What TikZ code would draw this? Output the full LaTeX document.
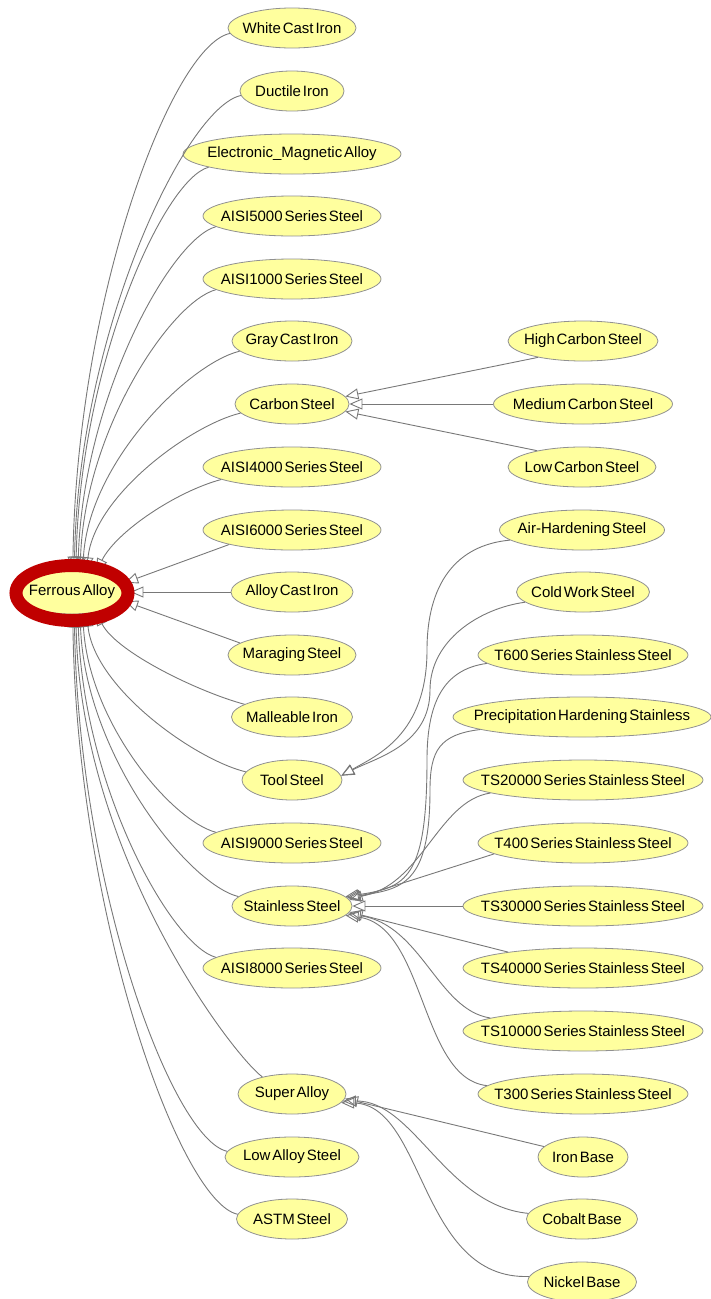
\documentclass[tikz,border=0pt]{standalone}
\usepackage{fontspec}
\setmainfont{Liberation Sans}[WordSpace=0.45]
\usetikzlibrary{shapes.geometric,arrows.meta}
\definecolor{nodefill}{RGB}{255,255,158}
\definecolor{nodeline}{RGB}{145,145,145}
\definecolor{linkgray}{RGB}{120,120,120}
\definecolor{ringred}{RGB}{192,0,0}
% label text that does not widen the ellipse; widths are set per class
\newcommand\lbl[1]{\makebox[0pt]{#1}}

\begin{document}
\begin{tikzpicture}[x=1pt,y=-1pt,
  cls/.style={ellipse, draw=nodeline, line width=0.8pt, fill=nodefill,
    minimum height=40pt, minimum width=#1pt, inner sep=0pt,
    font=\fontsize{15}{18}\selectfont},
  isa/.style={draw=linkgray, line width=0.9pt,
    -{Triangle[open,length=13pt,width=11pt]}},
]
\useasboundingbox (0,0) rectangle (710,1299);

% root class
\node[cls=116, minimum height=44pt] (fa) at (72,592) {\lbl{Ferrous Alloy}};

% direct subclasses
\node[cls=128] (wci)  at (292,28)   {\lbl{White Cast Iron}};
\node[cls=104] (duc)  at (292,91)   {\lbl{Ductile Iron}};
\node[cls=218] (ema)  at (292,154)  {\lbl{Electronic\_Magnetic Alloy}};
\node[cls=178] (a5)   at (292,216)  {\lbl{AISI5000 Series Steel}};
\node[cls=178] (a1)   at (292,279)  {\lbl{AISI1000 Series Steel}};
\node[cls=120] (gci)  at (292,341)  {\lbl{Gray Cast Iron}};
\node[cls=114] (cs)   at (292,404)  {\lbl{Carbon Steel}};
\node[cls=178] (a4)   at (292,467)  {\lbl{AISI4000 Series Steel}};
\node[cls=178] (a6)   at (292,530)  {\lbl{AISI6000 Series Steel}};
\node[cls=122] (aci)  at (292,592)  {\lbl{Alloy Cast Iron}};
\node[cls=128] (mar)  at (292,655)  {\lbl{Maraging Steel}};
\node[cls=121] (mal)  at (292,717)  {\lbl{Malleable Iron}};
\node[cls=100] (tool) at (292,780)  {\lbl{Tool Steel}};
\node[cls=178] (a9)   at (292,843)  {\lbl{AISI9000 Series Steel}};
\node[cls=120] (ss)   at (292,906)  {\lbl{Stainless Steel}};
\node[cls=178] (a8)   at (292,968)  {\lbl{AISI8000 Series Steel}};
\node[cls=108] (sa)   at (292,1094) {\lbl{Super Alloy}};
\node[cls=134] (la)   at (292,1157) {\lbl{Low Alloy Steel}};
\node[cls=111] (astm) at (292,1219) {\lbl{ASTM Steel}};

% second level
\node[cls=150] (hcs) at (583,341)  {\lbl{High Carbon Steel}};
\node[cls=179] (mcs) at (583,404)  {\lbl{Medium Carbon Steel}};
\node[cls=148] (lcs) at (582,467)  {\lbl{Low Carbon Steel}};
\node[cls=165] (ahs) at (582,530)  {\lbl{Air-Hardening Steel}};
\node[cls=133] (cws) at (583,592)  {\lbl{Cold Work Steel}};
\node[cls=210] (t6)  at (583,655)  {\lbl{T600 Series Stainless Steel}};
\node[cls=258] (phs) at (582,717)  {\lbl{Precipitation Hardening Stainless}};
\node[cls=240] (ts2) at (583,780)  {\lbl{TS20000 Series Stainless Steel}};
\node[cls=210] (t4)  at (583,843)  {\lbl{T400 Series Stainless Steel}};
\node[cls=240] (ts3) at (583,906)  {\lbl{TS30000 Series Stainless Steel}};
\node[cls=240] (ts4) at (583,968)  {\lbl{TS40000 Series Stainless Steel}};
\node[cls=240] (ts1) at (583,1031) {\lbl{TS10000 Series Stainless Steel}};
\node[cls=210] (t3)  at (583,1094) {\lbl{T300 Series Stainless Steel}};
\node[cls=90]  (ib)  at (583,1157) {\lbl{Iron Base}};
\node[cls=111] (cb)  at (582,1219) {\lbl{Cobalt Base}};
\node[cls=109] (nb)  at (582,1282) {\lbl{Nickel Base}};

% routing points where bundled edges run vertically
\coordinate (tj1) at (427,650);
\coordinate (tj2) at (430,690);
\coordinate (sj1) at (427,760);
\coordinate (sj2) at (430,790);

% subclass links into the root, upper half
\draw[isa] (wci.185) .. controls +(-58,12) and +(4,-272) .. (fa.88);
\draw[isa] (duc.185) .. controls +(-55,12) and +(4,-238) .. (fa.84);
\draw[isa] (ema.189) .. controls +(-45,12) and +(4,-205) .. (fa.80);
\draw[isa] (a5.188)  .. controls +(-45,12) and +(5,-172) .. (fa.75);
\draw[isa] (a1.188)  .. controls +(-45,12) and +(5,-140) .. (fa.70);
\draw[isa] (gci.191) .. controls +(-50,12) and +(6,-108) .. (fa.64);
\draw[isa] (cs.190)  .. controls +(-50,12) and +(8,-75)  .. (fa.56);
\draw[isa] (a4.190)  .. controls +(-45,12) and +(20,-40) .. (fa.40);
\draw[isa] (a6.193) -- (fa.10);
\draw[isa] (aci.west) -- (fa.east);
\draw[isa] (mar.167) -- (fa.-10);

% subclass links into the root, lower half
\draw[isa] (mal.165)  .. controls +(-45,-12) and +(20,40)  .. (fa.-40);
\draw[isa] (tool.170) .. controls +(-50,-12) and +(8,75)   .. (fa.-56);
\draw[isa] (a9.172)   .. controls +(-45,-12) and +(6,108)  .. (fa.-64);
\draw[isa] (ss.170)   .. controls +(-50,-12) and +(5,140)  .. (fa.-70);
\draw[isa] (a8.172)   .. controls +(-45,-12) and +(5,172)  .. (fa.-75);
\draw[isa] (sa.150)   .. controls +(-30,-22) and +(4,240)  .. (fa.-80);
\draw[isa] (la.175)   .. controls +(-55,-12) and +(4,272)  .. (fa.-84);
\draw[isa] (astm.175) .. controls +(-58,-12) and +(4,300)  .. (fa.-88);

% carbon steel
\draw[isa] (hcs.200) -- (cs.8);
\draw[isa] (mcs.west) -- (cs.east);
\draw[isa] (lcs.160) -- (cs.-8);

% tool steel
\draw[isa] (ahs.188) .. controls +(-55,5) and +(0,-65) .. (tj1)
  .. controls +(0,85) and +(35,-20) .. (tool.5);
\draw[isa] (cws.190) .. controls +(-45,6) and +(0,-50) .. (tj2)
  .. controls +(0,55) and +(35,-18) .. (tool.5);

% stainless steel
\draw[isa] (t6.185) .. controls +(-45,6) and +(0,-55) .. (sj1)
  .. controls +(0,120) and +(60,-9) .. (ss.10);
\draw[isa] (phs.187) .. controls +(-40,5) and +(0,-40) .. (sj2)
  .. controls +(0,95) and +(55,-8) .. (ss.9);
\draw[isa] (ts2.188) .. controls +(-53,8) and +(74,-11) .. (ss.8);
\draw[isa] (t4.187) -- (ss.6);
\draw[isa] (ts3.west) -- (ss.east);
\draw[isa] (ts4.168) -- (ss.-6);
\draw[isa] (ts1.172) .. controls +(-53,-8) and +(74,11) .. (ss.-8);
\draw[isa] (t3.175) .. controls +(-67,-7) and +(80,10) .. (ss.-10);

% super alloy
\draw[isa] (ib.165) -- (sa.-5);
\draw[isa] (cb.174) .. controls +(-83,-8) and +(71,-1) .. (sa.-8);
\draw[isa] (nb.174) .. controls +(-110,4) and +(84,2) .. (sa.-10);

% highlight ring round the root
\draw[ringred, line width=13pt] (72,593) ellipse [x radius=56pt, y radius=27.5pt];
\end{tikzpicture}
\end{document}
